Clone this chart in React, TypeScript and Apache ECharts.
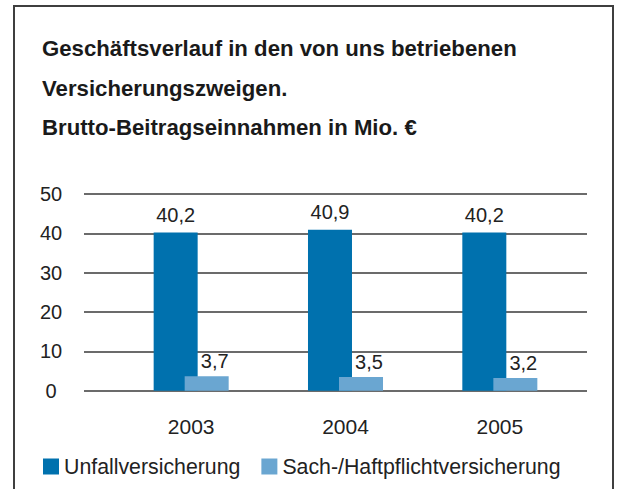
import React, { useEffect, useRef } from "react";
import * as echarts from "echarts";

const categories = ["2003", "2004", "2005"];
const unfallValues = [40.2, 40.9, 40.2];
const sachValues = [3.7, 3.5, 3.2];
const seriesNames = ["Unfallversicherung", "Sach-/Haftpflichtversicherung"];
const titleLines = [
  "Geschäftsverlauf in den von uns betriebenen",
  "Versicherungszweigen.",
  "Brutto-Beitragseinnahmen in Mio. €",
];
const yMin = 0;
const yMax = 50;
const yStep = 10;

const FONT = "'Liberation Sans', Arial, sans-serif";
const DARK = "#0071AE";
const LIGHT = "#6AA6D1";

const fmt = (p: any) => Number(p.value).toFixed(1).replace(".", ",");

export default function App() {
  const ref = useRef<HTMLDivElement>(null);
  useEffect(() => {
    document.body.style.margin = "0";
    const chart = echarts.init(ref.current!, null, { renderer: "svg" });
    const top = 194;
    const bottom = 489 - 390.7;
    chart.setOption({
      animation: false,
      backgroundColor: "#fff",
      textStyle: { fontFamily: FONT },
      title: {
        text: titleLines.join("\n"),
        left: 37,
        top: 24,
        textStyle: {
          fontFamily: FONT,
          fontSize: 22.2,
          fontWeight: "bold",
          lineHeight: 39.5,
          color: "#1a1a1a",
        },
      },
      graphic: [
        {
          type: "rect",
          shape: { x: 14, y: 6, width: 599, height: 540 },
          style: { fill: "none", stroke: "#3f3f3f", lineWidth: 2 },
          z: 10,
        },
      ],
      legend: {
        data: seriesNames,
        left: 38,
        top: 451,
        icon: "rect",
        itemWidth: 16,
        itemHeight: 16,
        itemGap: 21,
        textStyle: { fontFamily: FONT, fontSize: 21.3, color: "#222" },
      },
      grid: [
        { left: 84, right: 32, top, bottom },
        { left: 114, right: 42, top, bottom },
      ],
      xAxis: [
        { gridIndex: 0, type: "category", data: categories, show: false },
        {
          gridIndex: 1,
          type: "category",
          data: categories,
          axisLine: { show: false },
          axisTick: { show: false },
          axisLabel: { fontFamily: FONT, fontSize: 21, color: "#222", margin: 25 },
        },
      ],
      yAxis: [
        {
          gridIndex: 0,
          type: "value",
          min: yMin,
          max: yMax,
          interval: yStep,
          axisLine: { show: false },
          axisTick: { show: false },
          splitLine: { show: true, lineStyle: { color: "#3a3a3a", width: 1.5 } },
          axisLabel: { fontFamily: FONT, fontSize: 20, color: "#222", align: "center", margin: 33 },
        },
        {
          gridIndex: 1,
          type: "value",
          min: yMin,
          max: yMax,
          interval: yStep,
          show: false,
        },
      ],
      series: [
        {
          name: seriesNames[0],
          type: "bar",
          xAxisIndex: 1,
          yAxisIndex: 1,
          data: unfallValues,
          barWidth: 44,
          barGap: "-29.5%",
          itemStyle: { color: DARK },
          label: {
            show: true,
            position: "top",
            distance: 8,
            formatter: fmt,
            fontFamily: FONT,
            fontSize: 20,
            color: "#222",
          },
        },
        {
          name: seriesNames[1],
          type: "bar",
          xAxisIndex: 1,
          yAxisIndex: 1,
          data: sachValues,
          barWidth: 44,
          itemStyle: { color: LIGHT },
          label: {
            show: true,
            position: "top",
            distance: 5,
            offset: [8, 0],
            formatter: fmt,
            fontFamily: FONT,
            fontSize: 20,
            color: "#222",
          },
        },
      ],
    });
    return () => chart.dispose();
  }, []);
  return <div ref={ref} style={{ width: 619, height: 489 }} />;
}
